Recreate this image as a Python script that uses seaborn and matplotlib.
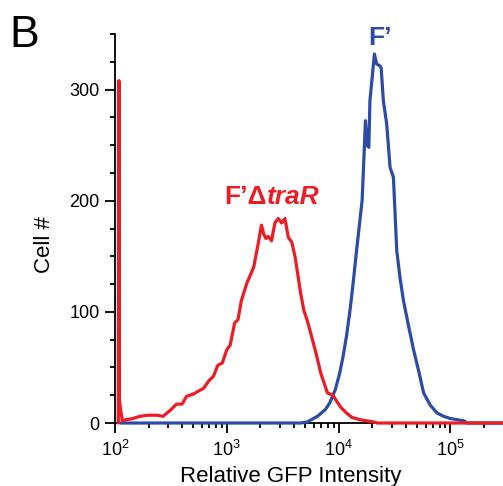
import numpy as np
import pandas as pd
import seaborn as sns
import matplotlib.pyplot as plt
from matplotlib.ticker import FixedLocator, FixedFormatter, MultipleLocator, LogLocator, NullFormatter

# histogram traces (log10 of GFP intensity, cell count)
red_log = [2.03, 2.035, 2.04, 2.065, 2.10, 2.16, 2.22, 2.30, 2.38, 2.43, 2.50, 2.55, 2.60,
           2.64, 2.70, 2.75, 2.79, 2.84, 2.88, 2.92, 2.96, 3.00, 3.03, 3.07, 3.10, 3.13,
           3.18, 3.24, 3.28, 3.31, 3.33, 3.35, 3.37, 3.40, 3.43, 3.46, 3.49, 3.52, 3.55,
           3.58, 3.61, 3.63, 3.66, 3.69, 3.72, 3.75, 3.80, 3.84, 3.87, 3.90, 3.95, 3.98,
           4.02, 4.07, 4.12, 4.19, 4.31, 4.35, 5.55]
red_count = [0, 308, 20, 2, 3, 4, 6, 7, 7, 6, 12, 17, 17,
             24, 26, 29, 31, 38, 42, 52, 54, 66, 70, 90, 93, 110,
             126, 140, 161, 178, 170, 166, 168, 164, 180, 184, 180, 184, 167,
             163, 150, 137, 117, 101, 92, 81, 62, 45, 36, 27, 25, 20,
             14, 9, 5, 3, 1, 0, 0]

blue_log = [2.05, 3.66, 3.72, 3.81, 3.88, 3.92, 3.97, 4.01, 4.04, 4.07, 4.10, 4.13, 4.16,
            4.21, 4.24, 4.255, 4.27, 4.28, 4.32, 4.34, 4.36, 4.38, 4.40, 4.43, 4.46,
            4.49, 4.52, 4.55, 4.58, 4.62, 4.67, 4.72, 4.76, 4.82, 4.88, 4.94, 5.00,
            5.06, 5.12, 5.15, 5.55]
blue_count = [0, 0, 1, 6, 12, 18, 30, 45, 60, 78, 100, 126, 155,
              200, 272, 250, 248, 290, 332, 323, 322, 320, 290, 269, 230,
              221, 155, 130, 110, 90, 66, 45, 27, 16, 9, 6, 4,
              3, 2, 0, 0]

x_ticks = [1e2, 1e3, 1e4, 1e5]
x_labels = ['$\\mathregular{10^{2}}$', '$\\mathregular{10^{3}}$',
            '$\\mathregular{10^{4}}$', '$\\mathregular{10^{5}}$']
y_ticks = [0, 100, 200, 300]

red = '#ED1C24'
blue = '#2B4BA6'

sns.set_style('ticks')
plt.rcParams['font.family'] = ['Liberation Sans', 'DejaVu Sans']
plt.rcParams['mathtext.fontset'] = 'custom'
plt.rcParams['mathtext.rm'] = 'Liberation Sans'
plt.rcParams['text.color'] = 'black'
plt.rcParams['axes.labelcolor'] = 'black'
plt.rcParams['xtick.color'] = 'black'
plt.rcParams['ytick.color'] = 'black'

red_df = pd.DataFrame({'gfp': 10 ** np.array(red_log), 'cells': red_count})
blue_df = pd.DataFrame({'gfp': 10 ** np.array(blue_log), 'cells': blue_count})

fig = plt.figure(figsize=(5.03, 4.86), dpi=100)
ax = fig.add_axes([0.2286, 0.1296, 0.7714, 0.8004])

sns.lineplot(data=blue_df, x='gfp', y='cells', color=blue, lw=2.3, sort=False,
             estimator=None, ax=ax, zorder=3, clip_on=False)
sns.lineplot(data=red_df, x='gfp', y='cells', color=red, lw=2.3, sort=False,
             estimator=None, ax=ax, zorder=4, clip_on=False)

ax.set_xscale('log')
ax.set_xlim(1e2, 10 ** 5.47)
ax.set_ylim(0, 350)

ax.xaxis.set_major_locator(FixedLocator(x_ticks))
ax.xaxis.set_major_formatter(FixedFormatter(x_labels))
ax.xaxis.set_minor_locator(LogLocator(base=10, subs=np.arange(2, 10)))
ax.xaxis.set_minor_formatter(NullFormatter())
ax.yaxis.set_major_locator(FixedLocator(y_ticks))
ax.yaxis.set_minor_locator(MultipleLocator(25))

ax.tick_params(which='major', length=7, width=1.3, labelsize=13, pad=4)
ax.tick_params(axis='x', which='major', pad=5)
ax.tick_params(which='minor', length=3.5, width=1.3)
for s in ['left', 'bottom']:
    ax.spines[s].set_linewidth(1.3)
    ax.spines[s].set_color('black')
sns.despine(ax=ax)

ax.set_xlabel('Relative GFP Intensity', fontsize=16)
ax.set_ylabel('Cell #', fontsize=16)
ax.xaxis.set_label_coords(0.4536, -0.11)
ax.yaxis.set_label_coords(-0.155, 0.46)

# annotations
fig.text(267 / 503, 1 - 204 / 486, 'F\u2019\u0394', color=red, fontsize=19,
         fontweight='bold', ha='right', va='baseline')
fig.text(267 / 503, 1 - 204 / 486, 'traR', color=red, fontsize=19,
         fontweight='bold', fontstyle='italic', ha='left', va='baseline')
fig.text(380 / 503, 1 - 45 / 486, 'F\u2019', color=blue, fontsize=19,
         fontweight='bold', ha='center', va='baseline')
fig.text(9 / 503, 1 - 47 / 486, 'B', fontsize=32, ha='left', va='baseline')

fig.savefig('out.png', dpi=100)
